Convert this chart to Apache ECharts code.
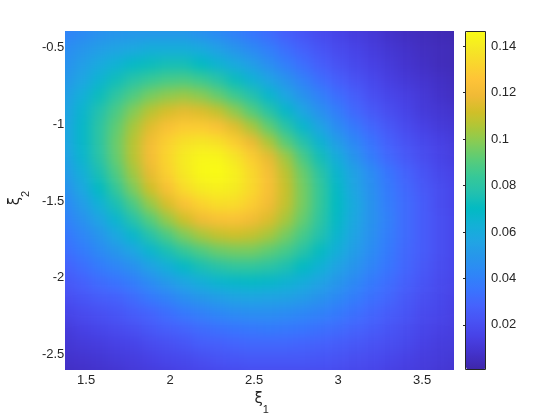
<!DOCTYPE html>
<html>
<head>
<meta charset="utf-8">
<script src="https://cdn.jsdelivr.net/npm/echarts@6/dist/echarts.min.js"></script>
<style>
  body { margin: 0; background: #fff; }
  #wrap { position: relative; width: 560px; height: 420px; background: #fff; }
  #clip { position: absolute; left: 65px; top: 31px; width: 389px; height: 339px; overflow: hidden; }
  #field { position: absolute; left: -30px; top: -30px; width: 449px; height: 399px; filter: blur(6px); }
  #axes { position: absolute; left: 0; top: 0; width: 560px; height: 420px; }
</style>
</head>
<body>
<div id="wrap">
  <div id="clip"><div id="field"></div></div>
  <div id="axes"></div>
</div>
<script>
// grid of xi_1 / xi_2 values (cell centres)
const xValues = [1.4, 1.5, 1.6, 1.7, 1.8, 1.9, 2.0, 2.1, 2.2, 2.3, 2.4, 2.5, 2.6, 2.7, 2.8, 2.9, 3.0, 3.1, 3.2, 3.3, 3.4, 3.5, 3.6, 3.7];
const yValues = [-2.6, -2.5, -2.4, -2.3, -2.2, -2.1, -2.0, -1.9, -1.8, -1.7, -1.6, -1.5, -1.4, -1.3, -1.2, -1.1, -1.0, -0.9, -0.8, -0.7, -0.6, -0.5, -0.4];

// density, one row per yValues entry
const density = [
  [0.006,0.007,0.008,0.009,0.011,0.012,0.013,0.015,0.016,0.017,0.018,0.019,0.019,0.019,0.019,0.019,0.018,0.017,0.016,0.014,0.013,0.012,0.010,0.009],
  [0.008,0.009,0.010,0.012,0.013,0.015,0.017,0.018,0.020,0.022,0.023,0.024,0.024,0.024,0.024,0.023,0.022,0.020,0.019,0.017,0.015,0.013,0.012,0.010],
  [0.010,0.012,0.013,0.015,0.016,0.019,0.021,0.023,0.026,0.027,0.029,0.030,0.030,0.030,0.029,0.028,0.026,0.024,0.022,0.020,0.018,0.015,0.013,0.012],
  [0.012,0.015,0.017,0.019,0.021,0.024,0.027,0.029,0.032,0.034,0.036,0.037,0.038,0.037,0.036,0.034,0.032,0.029,0.026,0.023,0.020,0.017,0.015,0.013],
  [0.016,0.019,0.021,0.023,0.026,0.029,0.033,0.037,0.040,0.043,0.045,0.046,0.046,0.045,0.043,0.041,0.038,0.034,0.030,0.026,0.023,0.019,0.017,0.014],
  [0.020,0.023,0.026,0.028,0.032,0.037,0.041,0.046,0.050,0.053,0.056,0.057,0.056,0.055,0.052,0.048,0.044,0.039,0.034,0.030,0.025,0.021,0.018,0.015],
  [0.024,0.028,0.032,0.035,0.039,0.045,0.051,0.057,0.062,0.066,0.068,0.069,0.068,0.065,0.061,0.056,0.050,0.044,0.038,0.033,0.028,0.023,0.019,0.016],
  [0.028,0.033,0.038,0.042,0.047,0.055,0.062,0.069,0.075,0.079,0.082,0.082,0.080,0.076,0.070,0.064,0.056,0.049,0.042,0.036,0.030,0.025,0.020,0.017],
  [0.033,0.038,0.044,0.050,0.057,0.066,0.075,0.083,0.089,0.094,0.096,0.096,0.092,0.087,0.079,0.071,0.062,0.053,0.045,0.038,0.031,0.026,0.021,0.017],
  [0.036,0.042,0.049,0.058,0.067,0.078,0.088,0.097,0.104,0.109,0.111,0.109,0.104,0.096,0.087,0.077,0.066,0.056,0.047,0.039,0.032,0.026,0.021,0.017],
  [0.040,0.047,0.056,0.066,0.078,0.090,0.101,0.111,0.119,0.123,0.124,0.120,0.114,0.104,0.093,0.081,0.069,0.058,0.048,0.040,0.032,0.026,0.021,0.017],
  [0.043,0.052,0.063,0.075,0.088,0.101,0.113,0.124,0.131,0.135,0.134,0.129,0.120,0.109,0.096,0.083,0.070,0.059,0.048,0.039,0.032,0.026,0.020,0.016],
  [0.047,0.058,0.070,0.083,0.097,0.111,0.123,0.134,0.140,0.142,0.140,0.133,0.123,0.110,0.096,0.083,0.069,0.057,0.047,0.038,0.031,0.025,0.020,0.016],
  [0.051,0.062,0.075,0.089,0.103,0.117,0.130,0.139,0.145,0.146,0.142,0.133,0.122,0.108,0.094,0.080,0.066,0.055,0.045,0.036,0.029,0.023,0.018,0.015],
  [0.054,0.066,0.079,0.093,0.107,0.121,0.132,0.140,0.144,0.144,0.138,0.129,0.117,0.103,0.088,0.074,0.061,0.049,0.039,0.031,0.025,0.020,0.016,0.013],
  [0.056,0.068,0.080,0.094,0.107,0.120,0.130,0.136,0.138,0.136,0.129,0.118,0.105,0.091,0.078,0.065,0.053,0.043,0.035,0.028,0.022,0.018,0.015,0.012],
  [0.056,0.068,0.080,0.092,0.104,0.115,0.123,0.128,0.128,0.124,0.115,0.104,0.092,0.079,0.067,0.056,0.045,0.037,0.030,0.024,0.019,0.015,0.012,0.010],
  [0.055,0.066,0.077,0.088,0.098,0.107,0.113,0.116,0.114,0.109,0.100,0.090,0.079,0.068,0.057,0.047,0.039,0.031,0.025,0.020,0.016,0.012,0.010,0.008],
  [0.053,0.062,0.072,0.081,0.089,0.096,0.100,0.102,0.099,0.093,0.085,0.077,0.067,0.057,0.048,0.040,0.033,0.027,0.021,0.017,0.014,0.011,0.008,0.006],
  [0.050,0.057,0.065,0.073,0.079,0.084,0.087,0.088,0.085,0.079,0.072,0.064,0.056,0.048,0.040,0.033,0.027,0.022,0.018,0.014,0.011,0.009,0.007,0.005],
  [0.047,0.053,0.059,0.064,0.069,0.072,0.074,0.074,0.070,0.065,0.059,0.053,0.046,0.039,0.033,0.027,0.022,0.018,0.015,0.012,0.009,0.007,0.005,0.004],
  [0.045,0.049,0.053,0.056,0.058,0.061,0.061,0.061,0.059,0.054,0.049,0.044,0.039,0.033,0.028,0.023,0.019,0.016,0.013,0.010,0.008,0.006,0.005,0.004],
  [0.041,0.044,0.047,0.049,0.050,0.050,0.050,0.050,0.047,0.044,0.040,0.036,0.032,0.027,0.023,0.019,0.016,0.013,0.011,0.008,0.006,0.005,0.004,0.003]
];

const xTicks = [1.5, 2, 2.5, 3, 3.5];
const yTicks = [-2.5, -2, -1.5, -1, -0.5];
const colorTicks = [0.02, 0.04, 0.06, 0.08, 0.1, 0.12, 0.14];
const colorRange = [0.001, 0.1461];
const xRange = [1.4, 3.69];
const yRange = [-2.57, -0.39];

// parula
const parula = ['#3E26A8','#4332CB','#4741E5','#4852F4','#4563FD','#3875FE','#2E87F7','#2796EB',
  '#20A5E3','#12B1D6','#02BAC3','#24C1AE','#37C897','#57CC7A','#81CC59','#ABC739',
  '#D1BF27','#F0BA36','#FEC338','#FAD62D','#F5E924','#F9FB15'];

const cells = [];
yValues.forEach(function (y, j) {
  xValues.forEach(function (x, i) {
    cells.push([x, y, density[j][i]]);
  });
});

const halfX = (xValues[1] - xValues[0]) / 2;
const halfY = (yValues[1] - yValues[0]) / 2;
const PAD = 30;

// colour field (blurred underneath, like shading interp)
const field = echarts.init(document.getElementById('field'), null, {renderer: 'canvas'});
field.setOption({
  animation: false,
  grid: {left: PAD, right: PAD, top: PAD, bottom: PAD},
  xAxis: {type: 'value', min: xRange[0], max: xRange[1], show: false},
  yAxis: {type: 'value', min: yRange[0], max: yRange[1], show: false},
  visualMap: {
    show: false, type: 'continuous', dimension: 2,
    min: colorRange[0], max: colorRange[1],
    inRange: {color: parula}
  },
  series: [{
    type: 'custom',
    clip: false,
    data: cells,
    renderItem: function (params, api) {
      const x = api.value(0), y = api.value(1);
      const p0 = api.coord([x - halfX, y + halfY]);
      const p1 = api.coord([x + halfX, y - halfY]);
      let x0 = p0[0], y0 = p0[1], x1 = p1[0], y1 = p1[1];
      if (x === xValues[0]) x0 -= PAD;
      if (x === xValues[xValues.length - 1]) x1 += PAD;
      if (y === yValues[0]) y1 += PAD;
      if (y === yValues[yValues.length - 1]) y0 -= PAD;
      return {
        type: 'rect',
        shape: {x: x0, y: y0, width: x1 - x0 + 0.6, height: y1 - y0 + 0.6},
        style: {fill: api.visual('color')}
      };
    }
  }]
});

// axes, labels and colorbar on top
const labelStyle = {color: '#262626', fontSize: 13, fontFamily: 'Liberation Sans, Arial, sans-serif'};
const nameStyle = {
  color: '#262626', fontFamily: 'DejaVu Sans, sans-serif',
  rich: {
    g: {fontSize: 15, lineHeight: 16, verticalAlign: 'top', color: '#262626', fontFamily: 'DejaVu Sans, sans-serif'},
    s: {fontSize: 11, lineHeight: 23, verticalAlign: 'bottom', color: '#262626', fontFamily: 'Liberation Sans, Arial, sans-serif'}
  }
};
const axes = echarts.init(document.getElementById('axes'), null, {renderer: 'canvas'});
axes.setOption({
  animation: false,
  backgroundColor: 'transparent',
  grid: [
    {left: 65, top: 31, width: 389, height: 339},
    {left: 466, top: 32, width: 19, height: 337}
  ],
  xAxis: [{
    type: 'value', min: xRange[0], max: xRange[1],
    name: '{g|ξ}{s|1}', nameLocation: 'middle', nameGap: 21,
    nameTextStyle: nameStyle,
    axisLine: {show: false}, axisTick: {show: false}, splitLine: {show: false},
    axisLabel: Object.assign({margin: 9, customValues: xTicks}, labelStyle)
  }, {
    gridIndex: 1, type: 'value', min: 0, max: 1, show: false
  }],
  yAxis: [{
    type: 'value', min: yRange[0], max: yRange[1],
    name: '{g|ξ}{s|2}', nameLocation: 'middle', nameGap: 38,
    nameTextStyle: nameStyle,
    axisLine: {show: false}, axisTick: {show: false}, splitLine: {show: false},
    axisLabel: Object.assign({margin: 5, customValues: yTicks}, labelStyle)
  }, {
    gridIndex: 1, type: 'value', position: 'right', z: 10,
    min: colorRange[0], max: colorRange[1],
    axisLine: {show: false}, splitLine: {show: false},
    axisTick: {show: true, inside: true, length: 3, customValues: colorTicks, lineStyle: {color: '#262626'}},
    axisLabel: Object.assign({margin: 6, customValues: colorTicks}, labelStyle)
  }],
  visualMap: {
    type: 'continuous', seriesIndex: [], calculable: false,
    min: colorRange[0], max: colorRange[1],
    left: 466, top: 31.5, itemWidth: 19.5, itemHeight: 338, padding: 0,
    text: null, showLabel: false, hoverLink: false,
    inRange: {color: parula}
  },
  graphic: [{
    type: 'rect', z: 100, silent: true,
    shape: {x: 465.5, y: 31.5, width: 20, height: 338},
    style: {fill: null, stroke: '#262626', lineWidth: 1}
  }],
  series: []
});
</script>
</body>
</html>
